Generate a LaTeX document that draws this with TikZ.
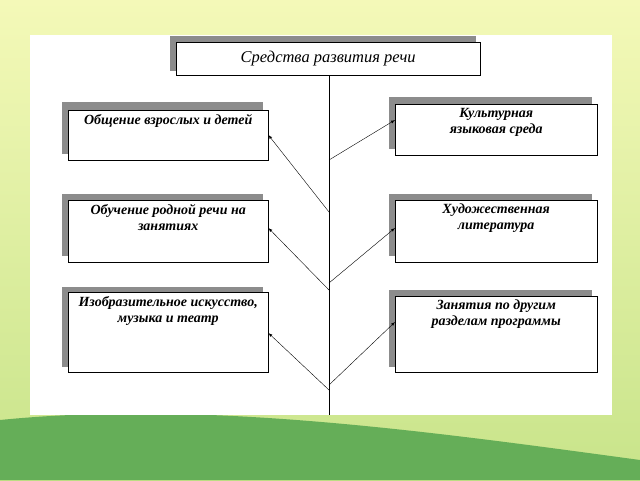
\documentclass[tikz,border=0pt]{standalone}
\usepackage{fontspec}
\setmainfont{Liberation Serif}
\definecolor{bgtop}{HTML}{F4F9B8}
\definecolor{bgmid}{HTML}{C8E48A}
\definecolor{bgdark}{HTML}{3E9A2E}
\definecolor{shade}{HTML}{8C8C8C}
\begin{document}
\begin{tikzpicture}
        [
            x=1pt, y=-1pt,
            card/.style = {draw, fill=white, anchor=north west},
            caption/.style = {align=center, anchor=north, inner sep=4pt,
                              font=\bfseries\itshape\fontsize{14}{16}\selectfont},
            shadow/.style = {fill=shade, draw=shade},
            link/.style = {->, >=latex, thin},
        ]
        % background
        \shade[top color=bgtop, bottom color=bgmid] (0,0) rectangle (640,480);
        \fill[bgdark!80] (0,480) -- (0,420) .. controls (200,400) and (420,430) .. (640,460) -- (640,480) -- cycle;
        \fill[white] (30,35) rectangle (612,415);
        % shadows
        \fill[shadow] (170,36) rectangle (475,70);
        \fill[shadow] (62,102) rectangle (262,153);
        \fill[shadow] (62,194) rectangle (262,255);
        \fill[shadow] (62,287) rectangle (262,366);
        \fill[shadow] (389,97) rectangle (591,148);
        \fill[shadow] (389,194) rectangle (591,255);
        \fill[shadow] (389,290) rectangle (591,366);
        % boxes
        \node [draw, fill=white, minimum width=304pt, minimum height=33pt, anchor=north west,
               font=\itshape\fontsize{16.5}{18}\selectfont] (root) at (176,42) {Средства развития речи};
        \node [card, minimum width=200pt, minimum height=50pt] (l1) at (68,110) {};
        \node [caption] (l1t) at (l1.north) {Общение взрослых и детей};
        \node [card, minimum width=200pt, minimum height=62pt] (l2) at (68,200) {};
        \node [caption] (l2t) at (l2.north) {Обучение родной речи на\\занятиях};
        \node [card, minimum width=200pt, minimum height=80pt] (l3) at (68,292) {};
        \node [caption] (l3t) at (l3.north) {Изобразительное искусство,\\музыка и театр};
        \node [card, minimum width=202pt, minimum height=51pt] (r1) at (395,104) {};
        \node [caption] (r1t) at (r1.north) {Культурная\\языковая среда};
        \node [card, minimum width=202pt, minimum height=62pt] (r2) at (395,200) {};
        \node [caption] (r2t) at (r2.north) {Художественная\\литература};
        \node [card, minimum width=202pt, minimum height=76pt] (r3) at (395,296) {};
        \node [caption] (r3t) at (r3.north) {Занятия по другим\\разделам программы};
        % trunk
        \coordinate (end) at (329,415);
        \coordinate (t1) at (329,212);
        \coordinate (t2) at (329,290);
        \coordinate (t3) at (329,390);
        \coordinate (s1) at (329,160);
        \coordinate (s2) at (329,283);
        \coordinate (s3) at (329,385);
        \draw (root.south -| end) -- (end);
        \draw[link] (t1) -- (l1.east |- 0,135);
        \draw[link] (t2) -- (l2.east |- 0,228);
        \draw[link] (t3) -- (l3.east |- 0,333);
        \draw[link] (s1) -- (r1.west |- 0,120);
        \draw[link] (s2) -- (r2.west |- 0,228);
        \draw[link] (s3) -- (r3.west |- 0,322);
\end{tikzpicture}
\end{document}
